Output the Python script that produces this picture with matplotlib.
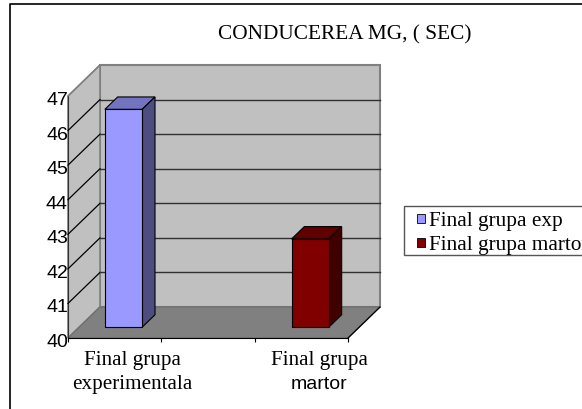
import matplotlib
matplotlib.use("Agg")
import matplotlib.pyplot as plt
from matplotlib.patches import Polygon, Rectangle
from matplotlib.lines import Line2D
from matplotlib.transforms import ScaledTranslation

W = 582
H = 410

label_lines = [["Final grupa", "experimentala"], ["Final grupa", "martor"]]
series_names = ["Final grupa exp", "Final grupa martor"]
slots = [0.5, 2.5]
values = [46.3, 42.55]
y_ticks = [40, 41, 42, 43, 44, 45, 46, 47]

front_colors = ["#9999ff", "#800000"]
top_colors = ["#7373bf", "#600000"]
side_colors = ["#4d4d80", "#400000"]

# front of the box in pixels, and how far the depth pushes things
LEFT, RIGHT, BOTTOM, TOP = 68, 348, 339, 97
DEPTH_X = 32 / (RIGHT - LEFT) * 3
DEPTH_Y = 31 / (BOTTOM - TOP) * 7
BAR_W = 0.40
BAR_SHIFT = -0.025
BAR_START = 0.35
BAR_END = 0.75


def proj(x, y, d):
    return (x + d * DEPTH_X, y + d * DEPTH_Y)


def box(ax, x0, x1, top, front, side, lid):
    pts = lambda p: [proj(*q) for q in p]
    ax.add_patch(Polygon(pts([(x0, top, BAR_START), (x1, top, BAR_START), (x1, top, BAR_END), (x0, top, BAR_END)]),
                         fc=lid, ec="black", lw=0.8, zorder=5, clip_on=False))
    ax.add_patch(Polygon(pts([(x1, 40, BAR_START), (x1, 40, BAR_END), (x1, top, BAR_END), (x1, top, BAR_START)]),
                         fc=side, ec="black", lw=0.8, zorder=5, clip_on=False))
    ax.add_patch(Polygon(pts([(x0, 40, BAR_START), (x1, 40, BAR_START), (x1, top, BAR_START), (x0, top, BAR_START)]),
                         fc=front, ec="black", lw=0.8, zorder=6, clip_on=False))


def main():
    fig = plt.figure(figsize=(W / 100, H / 100), dpi=100)
    serif = "Liberation Serif"
    sans = "Liberation Sans"

    # outer chart frame, open on the right and bottom
    fig.add_artist(Line2D([10 / W, 10 / W, 1], [0, 1 - 5 / H, 1 - 5 / H], color="black", lw=1.2))

    ax = fig.add_axes([LEFT / W, 1 - BOTTOM / H, (RIGHT - LEFT) / W, (BOTTOM - TOP) / H])
    ax.set_xlim(0, 3)
    ax.set_ylim(40, 47)
    ax.patch.set_visible(False)
    for name in ["top", "right"]:
        ax.spines[name].set_visible(False)
    ax.spines["left"].set_color("#303030")
    ax.spines["bottom"].set_color("black")

    # walls and floor
    ax.add_patch(Polygon([proj(0, 40, 1), proj(3, 40, 1), proj(3, 47, 1), proj(0, 47, 1)],
                         fc="#c0c0c0", ec="#808080", lw=1.5, zorder=1, clip_on=False))
    ax.add_patch(Polygon([proj(0, 40, 0), proj(0, 40, 1), proj(0, 47, 1), proj(0, 47, 0)],
                         fc="#c0c0c0", ec="#808080", lw=1.2, zorder=1, clip_on=False))
    ax.add_patch(Polygon([proj(0, 40, 0), proj(3, 40, 0), proj(3, 40, 1), proj(0, 40, 1)],
                         fc="#808080", ec="#707070", lw=1, zorder=2, clip_on=False))
    a = proj(3, 40, 0)
    b = proj(3, 40, 1)
    ax.plot([a[0], b[0]], [a[1], b[1]], color="black", lw=0.9, zorder=3, clip_on=False)

    # left wall diagonals, then the back wall lines (no line at the very top)
    for v in y_ticks[1:]:
        a = proj(0, v, 0)
        b = proj(0, v, 1)
        ax.plot([a[0], b[0]], [a[1], b[1]], color="black" if v < 47 else "#808080", lw=0.9, zorder=3, clip_on=False)
        if v < 47:
            c = proj(3, v, 1)
            ax.plot([b[0], c[0]], [b[1], c[1]], color="#303030", lw=1, zorder=3, clip_on=False)

    for i, v in enumerate(values):
        x0 = slots[i] + BAR_SHIFT - BAR_W / 2
        box(ax, x0, x0 + BAR_W, v, front_colors[i], side_colors[i], top_colors[i])

    ax.set_yticks(y_ticks)
    ax.tick_params(axis="y", length=0, pad=0)
    down = ScaledTranslation(0, -1.5 / 100, fig.dpi_scale_trans)
    for lab in ax.get_yticklabels():
        lab.set_fontfamily(sans)
        lab.set_fontsize(14)
        lab.set_color("black")
        lab.set_transform(lab.get_transform() + down)

    # category ticks at thirds, the middle slot is empty
    ax.set_xticks([0, 1, 2, 3])
    ax.set_xticklabels([])
    ax.tick_params(axis="x", length=3, width=0.8)

    for i, lines in enumerate(label_lines):
        x = slots[i] + 0.19
        ax.text(x, 39.37, lines[0], family=serif, fontsize=15.2, ha="center", va="center", clip_on=False)
        fam = sans if lines[1] == "martor" else serif
        ax.text(x, 38.67, lines[1], family=fam, fontsize=15.2 if fam == serif else 14, ha="center", va="center",
                clip_on=False)

    fig.text(345 / W, 1 - 35 / H, "CONDUCEREA MG, ( SEC)", family=serif, fontsize=15.3, ha="center", va="center")

    # legend runs off the right edge like the original
    fig.add_artist(Rectangle((404 / W, 1 - 256 / H), 190 / W, 49 / H, fc="white", ec="#555555", lw=1,
                             transform=fig.transFigure))
    for i, name in enumerate(series_names):
        ypx = 220 + i * 24
        fig.add_artist(Rectangle((417 / W, 1 - (ypx + 4) / H), 8 / W, 9 / H, fc=front_colors[i], ec="black", lw=0.6,
                                 transform=fig.transFigure))
        fig.text(429 / W, 1 - (ypx + 1.5) / H, name, family=serif, fontsize=15.3, ha="left", va="center")

    fig.savefig("out.png", dpi=100)


if __name__ == "__main__":
    main()
